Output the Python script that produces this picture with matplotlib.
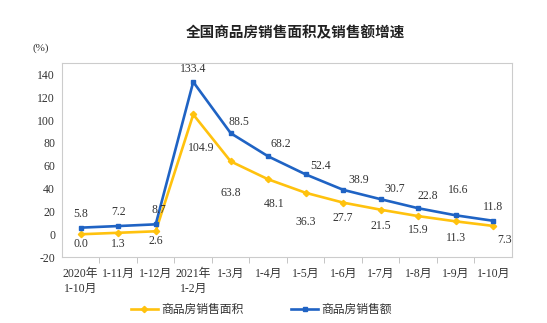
import matplotlib
matplotlib.use('Agg')
import matplotlib.pyplot as plt

# Data
categories = ['2020年\n1-10月', '1-11月', '1-12月', '2021年\n1-2月', '1-3月', '1-4月',
              '1-5月', '1-6月', '1-7月', '1-8月', '1-9月', '1-10月']
area_growth = [0.0, 1.3, 2.6, 104.9, 63.8, 48.1, 36.3, 27.7, 21.5, 15.9, 11.3, 7.3]
sales_growth = [5.8, 7.2, 8.7, 133.4, 88.5, 68.2, 52.4, 38.9, 30.7, 22.8, 16.6, 11.8]
y_ticks = [-20, 0, 20, 40, 60, 80, 100, 120, 140]

# label offsets (points)
area_off = [(0, -7), (0, -8), (0, -7), (6, -24), (0, -23), (4, -18), (0, -21), (0, -11),
            (0, -12), (0, -10), (0, -12), (8, -10)]
sales_off = [(0, 10), (0, 10), (2, 10), (0, 9), (6, 8), (9, 9), (11, 6), (11, 7),
             (10, 7), (7, 9), (2, 18), (0, 10)]

c_area = '#FFC20E'
c_sales = '#1F63C4'
serif = ['Liberation Serif', 'Noto Sans CJK SC']
txt = '#333333'

fig = plt.figure(figsize=(5.47, 3.23), dpi=100)
ax = fig.add_axes([0.1133, 0.204, 0.8227, 0.601])

x = list(range(len(categories)))
ax.plot(x, area_growth, color=c_area, lw=1.9, marker='D', ms=3.2, label='商品房销售面积')
ax.plot(x, sales_growth, color=c_sales, lw=1.9, marker='s', ms=3.5, label='商品房销售额')

for i, v in enumerate(area_growth):
    ax.annotate(f'{v:.1f}', (i, v), xytext=area_off[i], textcoords='offset points',
                ha='center', va='center', fontsize=8.5, family=serif, color=txt)
for i, v in enumerate(sales_growth):
    ax.annotate(f'{v:.1f}', (i, v), xytext=sales_off[i], textcoords='offset points',
                ha='center', va='center', fontsize=8.5, family=serif, color=txt)

ax.set_xlim(-0.5, len(categories) - 0.5)
ax.set_ylim(-20, 150)
ax.set_yticks(y_ticks)
ax.set_yticklabels([str(t) for t in y_ticks], family=serif, fontsize=8.5, color=txt)
ax.set_xticks(x)
ax.set_xticklabels(categories, family=serif, fontsize=8.5, color=txt, linespacing=1.3)
ax.tick_params(axis='x', which='major', length=0, pad=8)
ax.tick_params(axis='y', length=0, pad=5)
ax.set_xticks([i + 0.5 for i in x[:-1]], minor=True)
ax.tick_params(axis='x', which='minor', length=4, color='#BBBBBB', direction='out')
for s in ax.spines.values():
    s.set_color('#CCCCCC')
    s.set_linewidth(0.8)

fig.text(0.54, 0.9, '全国商品房销售面积及销售额增速', ha='center', va='center',
         fontsize=10.5, fontweight='bold', family='Noto Sans CJK SC', color='#222222')
fig.text(0.075, 0.852, '(%)', ha='center', va='center', fontsize=8, family=serif, color=txt)

leg = fig.legend(loc='center', bbox_to_anchor=(0.478, 0.04), ncol=2, frameon=False,
                 prop={'family': serif, 'size': 8.5}, columnspacing=4.0, handlelength=2.3,
                 handletextpad=0.3)
for t in leg.get_texts():
    t.set_color(txt)

fig.savefig('out.png', dpi=100, facecolor='white')
